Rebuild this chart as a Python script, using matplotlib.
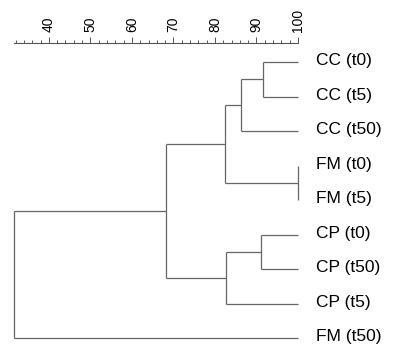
import matplotlib
matplotlib.use("Agg")
import matplotlib.pyplot as plt
import numpy as np

# leaf order as drawn, top to bottom
labels = ["CC (t0)", "CC (t5)", "CC (t50)", "FM (t0)", "FM (t5)",
          "CP (t0)", "CP (t50)", "CP (t5)", "FM (t50)"]

# merges: (child a, child b, similarity) ; new nodes get ids 9, 10, ...
merge_a = [0, 9, 3, 10, 5, 13, 12, 15]
merge_b = [1, 2, 4, 11, 6, 7, 14, 8]
merge_sim = [91.5, 86.3, 100.0, 82.5, 91.0, 82.6, 68.1, 31.6]

major_ticks = [40, 50, 60, 70, 80, 90, 100]

plt.rcParams['font.family'] = ['Liberation Sans', 'DejaVu Sans']

fig = plt.figure(figsize=(3.95, 3.46), dpi=100)
ax = fig.add_axes([14 / 395, 0, 284 / 395, (346 - 42.7) / 346])

n = len(labels)
node_x = {i: 100.0 for i in range(n)}
node_y = {i: float(i) for i in range(n)}
col = '#666666'
lw = 0.9

for k, (a, b, s) in enumerate(zip(merge_a, merge_b, merge_sim)):
    nid = n + k
    ax.plot([s, s], [node_y[a], node_y[b]], color=col, lw=lw,
            solid_capstyle='butt', clip_on=False)
    for c in (a, b):
        ax.plot([s, node_x[c]], [node_y[c], node_y[c]], color=col, lw=lw,
                solid_capstyle='butt', clip_on=False)
    node_x[nid] = s
    node_y[nid] = (node_y[a] + node_y[b]) / 2

for i, lab in enumerate(labels):
    ax.annotate(lab, (100, i), xytext=(13, 1), textcoords='offset points',
                va='center', ha='left', fontsize=12.5, color='black',
                annotation_clip=False)

ax.set_xlim(31.6, 100)
ax.set_ylim(8.23, -0.56)

for sp in ['left', 'right', 'bottom']:
    ax.spines[sp].set_visible(False)
ax.spines['top'].set_color('#555555')
ax.spines['top'].set_linewidth(0.8)

ax.xaxis.set_ticks_position('top')
ax.xaxis.set_label_position('top')
ax.set_xticks(major_ticks)
ax.set_xticks(np.arange(32, 100, 2), minor=True)
ax.set_xticklabels([str(t) for t in major_ticks], rotation=90, fontsize=10)
ax.tick_params(axis='x', which='major', length=4.3, width=0.7, color='#555555', pad=3.5)
ax.tick_params(axis='x', which='minor', length=2.2, width=0.7, color='#555555')
ax.set_yticks([])
ax.patch.set_alpha(0)

fig.savefig("out.png", dpi=100)
